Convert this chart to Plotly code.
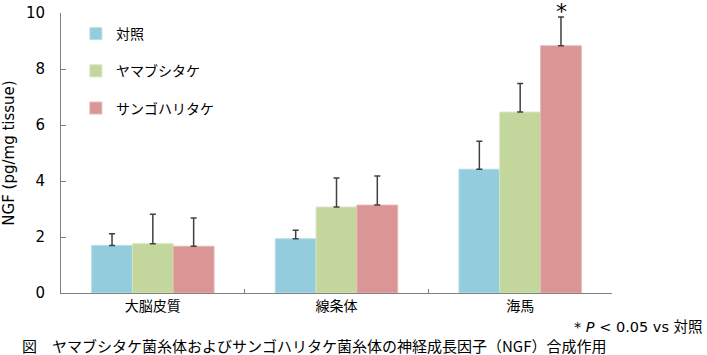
import plotly.graph_objects as go

categories = ["大脳皮質", "線条体", "海馬"]
series_names = ["対照", "ヤマブシタケ", "サンゴハリタケ"]
control = [1.70, 1.94, 4.42]
control_err = [0.42, 0.30, 1.00]
yamabushi = [1.76, 3.07, 6.46]
yamabushi_err = [1.05, 1.04, 1.02]
sango = [1.67, 3.14, 8.83]
sango_err = [1.01, 1.04, 1.03]
y_ticks = [0, 2, 4, 6, 8, 10]

colors = ["#93CDDD", "#C3D69B", "#D99694"]
line_colors = ["#B7DEE8", "#D7E4BD", "#E6B9B8"]
FONT = "DejaVu Sans, Noto Sans CJK JP, sans-serif"
JFONT = "Noto Sans CJK JP, DejaVu Sans, sans-serif"

fig = go.Figure()
for i, (name, vals, errs) in enumerate(zip(series_names, [control, yamabushi, sango],
                                            [control_err, yamabushi_err, sango_err])):
    fig.add_trace(go.Bar(
        x=categories, y=vals, name=name, legendgroup=name,
        marker=dict(color=colors[i], line=dict(color=line_colors[i], width=1)),
        error_y=dict(type="data", array=errs, arrayminus=[0] * len(errs), symmetric=False,
                     color="#404040", thickness=1.5, width=3),
    ))

fig.add_annotation(x=categories[2], y=sango[2] + sango_err[2], xref="x", yref="y",
                   text="*", showarrow=False, yanchor="bottom", xshift=41, yshift=-9,
                   font=dict(size=22, color="black", family=FONT))
fig.add_annotation(x=705, y=327, xref="paper", yref="paper", xanchor="right", yanchor="middle",
                   text="* <i>P</i> < 0.05 vs 対照", showarrow=False,
                   font=dict(size=14.5, color="black", family=FONT))
fig.add_annotation(x=20, y=345, xref="paper", yref="paper", xanchor="left", yanchor="middle",
                   text="図　ヤマブシタケ菌糸体およびサンゴハリタケ菌糸体の神経成長因子（NGF）合成作用",
                   showarrow=False, font=dict(size=15, color="black", family=JFONT))

# convert pixel positions of the text annotations into paper coordinates
L, R, T, B, W, H = 61, 95, 13, 62, 707, 355
pw, ph = W - L - R, H - T - B
for ann in fig.layout.annotations[1:]:
    ann.x = (ann.x - L) / pw
    ann.y = (H - B - ann.y) / ph

fig.update_layout(
    width=W, height=H,
    margin=dict(l=L, r=R, t=T, b=B, autoexpand=False),
    paper_bgcolor="white", plot_bgcolor="white",
    barmode="group", bargap=1/3, bargroupgap=0,
    font=dict(family=FONT, color="black", size=14),
    showlegend=True,
    legend=dict(x=0.027, y=0.982, xanchor="left", yanchor="top", bgcolor="rgba(0,0,0,0)",
                font=dict(size=14, family=JFONT), tracegroupgap=16, itemwidth=30),
)
fig.update_xaxes(showline=True, linecolor="#808080", linewidth=1, ticks="inside",
                 tickson="boundaries", ticklen=4, tickcolor="#808080", automargin=False,
                 tickfont=dict(size=14, family=JFONT), showgrid=False, fixedrange=True)
fig.update_yaxes(range=[0, 10], tickvals=y_ticks, showline=True, linecolor="#808080", linewidth=1,
                 ticks="inside", ticklen=5, tickcolor="#808080", showgrid=False, zeroline=False,
                 tickfont=dict(size=15, family=FONT), automargin=False, ticklabelstandoff=12,
                 title=dict(text="NGF (pg/mg tissue)", font=dict(size=15, family=FONT), standoff=10))

fig.write_html("out.html", config={"displayModeBar": False},
               post_script="document.body.style.margin='0';document.body.style.overflow='hidden';")
